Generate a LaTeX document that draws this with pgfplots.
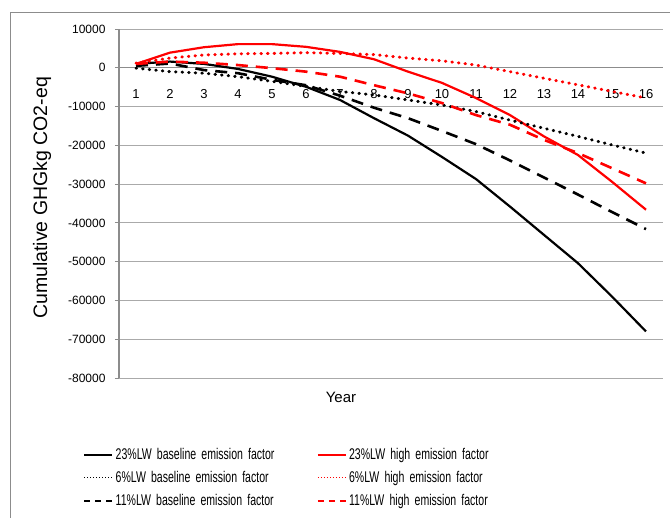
\documentclass[border=0pt]{standalone}
\usepackage{pgfplots}
\pgfplotsset{compat=1.18}
\usepackage{fontspec}
\setmainfont{Liberation Sans}
\newfontfamily\narrowfont{Liberation Sans}[FakeStretch=0.68]
\definecolor{gridgray}{RGB}{170,170,170}
\definecolor{axgray}{RGB}{140,140,140}
\begin{document}
\begin{tikzpicture}
\useasboundingbox (-119pt,-140pt) rectangle (551pt,378pt);
\begin{axis}[
  at={(0pt,0pt)}, anchor=south west,
  scale only axis, width=544pt, height=349pt,
  xmin=0.5, xmax=16.5, ymin=-80000, ymax=10000,
  axis x line=middle, axis y line=left,
  axis line style={-, draw=axgray, line width=1.3pt},
  xtick={1,...,16},
  xticklabels={1,2,3,4,5,6,7,8,9,10,11,12,13,14,15,16},
  xtick style={draw=none},
  xticklabel style={font=\fontsize{13}{15}\selectfont, yshift=-14pt, text=black},
  scaled y ticks=false,
  ytick={-80000,-70000,-60000,-50000,-40000,-30000,-20000,-10000,0,10000},
  yticklabels={-80000,-70000,-60000,-50000,-40000,-30000,-20000,-10000,0,10000},
  yticklabel style={font=\fontsize{12}{14}\selectfont, xshift=-6pt},
  ytick style={draw=axgray, line width=0.8pt},
  tick align=outside, major tick length=4pt,
  ymajorgrids, grid style={draw=gridgray, line width=0.8pt},
  ylabel={Cumulative GHGkg CO2-eq},
  y label style={at={(axis description cs:-0.1415,0.516)}, anchor=center, rotate=0, font=\fontsize{19.5}{22}\selectfont},
  xlabel={Year},
  x label style={at={(axis description cs:0.408,-0.057)}, anchor=center, font=\fontsize{15}{18}\selectfont},
  clip=false,
  legend columns=2,
  legend cell align=left,
  legend style={draw=none, fill=none, at={(axis description cs:-0.066,-0.195)}, anchor=north west,
    inner sep=0pt, font=\narrowfont\fontsize{15.5}{17}\selectfont,
    nodes={text width=199pt, align=left, inner sep=2pt},
    row sep=6.5pt},
  legend image code/.code={\draw[#1] (0pt,0pt) -- (28pt,0pt);},
]
\addplot[black, line width=2.2pt, forget plot] coordinates {(1,1000)(2,1600)(3,1000)(4,-300)(5,-2300)(6,-4900)(7,-8300)(8,-13000)(9,-17500)(10,-23000)(11,-28700)(12,-35800)(13,-43100)(14,-50400)(15,-59000)(16,-68000)};
\addplot[red, line width=2.2pt, forget plot] coordinates {(1,1000)(2,3900)(3,5300)(4,6100)(5,6100)(6,5400)(7,4100)(8,2200)(9,-1000)(10,-3900)(11,-7800)(12,-12200)(13,-17700)(14,-22500)(15,-29400)(16,-36600)};
\addplot[black, line width=3pt, line cap=round, dash pattern=on 0.6pt off 6pt, forget plot] coordinates {(1,-100)(2,-1000)(3,-1400)(4,-2300)(5,-3500)(6,-4800)(7,-6100)(8,-7000)(9,-8300)(10,-9600)(11,-11300)(12,-13500)(13,-15600)(14,-17700)(15,-19900)(16,-22000)};
\addplot[red, line width=3pt, line cap=round, dash pattern=on 0.6pt off 6pt, forget plot] coordinates {(1,1200)(2,2500)(3,3300)(4,3600)(5,3700)(6,3900)(7,3700)(8,3400)(9,2500)(10,1800)(11,700)(12,-1000)(13,-2700)(14,-4400)(15,-6100)(16,-7800)};
\addplot[black, line width=2.6pt, dash pattern=on 12pt off 8pt, forget plot] coordinates {(1,500)(2,1100)(3,-600)(4,-1400)(5,-3100)(6,-4500)(7,-7200)(8,-10300)(9,-13000)(10,-16300)(11,-19700)(12,-23900)(13,-28300)(14,-32700)(15,-37200)(16,-41600)};
\addplot[red, line width=2.6pt, dash pattern=on 12pt off 8pt, forget plot] coordinates {(1,1000)(2,1600)(3,1300)(4,700)(5,-100)(6,-1000)(7,-2300)(8,-4500)(9,-6600)(10,-9100)(11,-12200)(12,-14700)(13,-18600)(14,-22000)(15,-25900)(16,-29800)};
\addlegendimage{black, line width=2.2pt}
\addlegendentry{23\%LW baseline emission factor}
\addlegendimage{red, line width=2.2pt}
\addlegendentry{23\%LW high emission factor}
\addlegendimage{black, line width=1pt, dash pattern=on 1pt off 2pt}
\addlegendentry{6\%LW baseline emission factor}
\addlegendimage{red, line width=1pt, dash pattern=on 1pt off 2pt}
\addlegendentry{6\%LW high emission factor}
\addlegendimage{black, line width=2.4pt, dash pattern=on 6pt off 5pt}
\addlegendentry{11\%LW baseline emission factor}
\addlegendimage{red, line width=2.4pt, dash pattern=on 6pt off 5pt}
\addlegendentry{11\%LW high emission factor}
\end{axis}
\draw[axgray, line width=0.8pt] (-109pt,-140pt) -- (-109pt,366pt) -- (551pt,366pt);
\end{tikzpicture}
\end{document}
